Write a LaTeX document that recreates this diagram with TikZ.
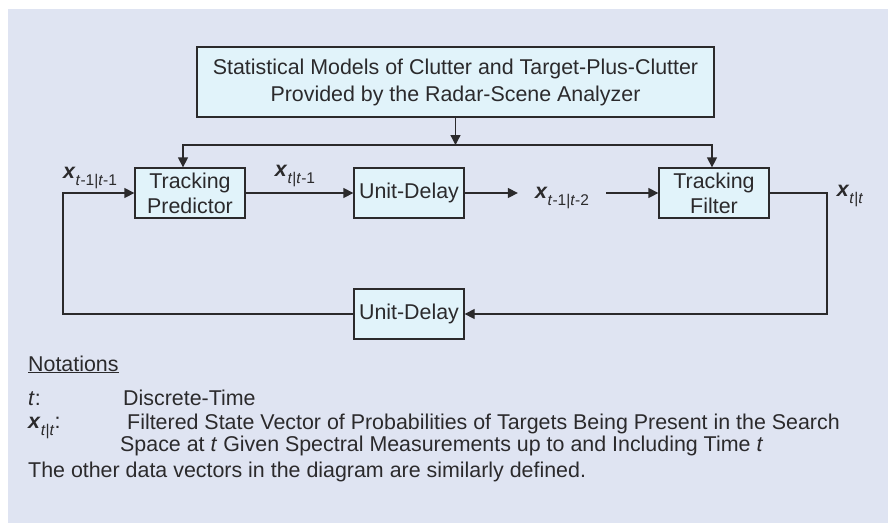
\documentclass[tikz,border=0pt]{standalone}
\usepackage{fontspec}
\setmainfont{Liberation Sans}
\usetikzlibrary{arrows.meta}

\definecolor{panel}{HTML}{DFE4F2}
\definecolor{boxfill}{HTML}{E1F3FA}
\definecolor{ink}{HTML}{2B2A2C}
\newcommand{\vx}[1]{\textbf{\textit{x}}\raisebox{-0.35em}{\fontsize{15.5}{15.5}\selectfont #1}}

\begin{document}
\begin{tikzpicture}[x=1pt, y=-1pt,
        block/.style = {draw=ink, fill=boxfill, line width=1.3pt, minimum width=110pt, minimum height=50pt, align=center, text=ink, inner sep=0pt, font=\fontsize{21.4}{25}\selectfont},
        sig/.style = {text=ink, inner sep=0pt, font=\fontsize{21.4}{25}\selectfont},
        note/.style = {anchor=base west, text=ink, inner sep=0pt, font=\fontsize{21.4}{24}\selectfont},
        wire/.style = {draw=ink, line width=1.3pt},
        >={Triangle[length=10pt, width=10pt]}
        ]

        \useasboundingbox (0,0) rectangle (888,523);
        \fill[panel] (8,9) rectangle (888,523);

        \node (models) at (455.5,82)  [block, minimum width=517pt, minimum height=70pt, font=\fontsize{21.4}{27}\selectfont] {Statistical Models of Clutter and Target-Plus-Clutter\\Provided by the Radar-Scene Analyzer};
        \node (pred)   at (190,193)   [block] {Tracking\\Predictor};
        \node (delay1) at (409,193)   [block] {Unit-Delay};
        \node (filt)   at (714,193)   [block] {Tracking\\Filter};
        \node (delay2) at (409,314)   [block] {Unit-Delay};

        \coordinate (split) at (455.5,145);
        \coordinate (loopl) at (63,314);
        \coordinate (loopr) at (827,314);

        \node (xprev) at (90,178)  [sig] {\vx{\textit{t}-1|\textit{t}-1}};
        \node (xpred) at (295,176) [sig] {\vx{\textit{t}|\textit{t}-1}};
        \node (xdel)  at (562,198) [sig, inner xsep=17pt] {\vx{\textit{t}-1|\textit{t}-2}};
        \node (xfilt) at (850,196) [sig] {\vx{\textit{t}|\textit{t}}};

        \draw[wire, ->] (models) -- (split);
        \draw[wire, ->] (split) -| ([xshift=-7pt]pred.north);
        \draw[wire, ->] (split) -| ([xshift=-2pt]filt.north);
        \draw[wire, ->] (pred) -- (delay1);
        \draw[wire, ->] (delay1.east) -- (delay1.east -| xdel.west);
        \draw[wire, ->] (xdel.east |- filt.west) -- (filt.west);
        \draw[wire, ->] (filt.east) -| (loopr) -- (delay2.east);
        \draw[wire, ->] (delay2.west) -- (loopl) |- (pred.west);

        \node (nhead) at (28,371)  [note] {\underline{Notations}};
        \node (nt)    at (28,405)  [note] {\textit{t}:};
        \node (ntd)   at (123,405) [note] {Discrete-Time};
        \node (nx)    at (28,428)  [note] {\vx{\textit{t}|\textit{t}}:};
        \node (nxd)   at (127,429) [note] {Filtered State Vector of Probabilities of Targets Being Present in the Search};
        \node (nxd2)  at (120,451) [note] {Space at \textit{t} Given Spectral Measurements up to and Including Time \textit{t}};
        \node (nrest) at (28,477)  [note] {The other data vectors in the diagram are similarly defined.};

    \end{tikzpicture}
\end{document}
